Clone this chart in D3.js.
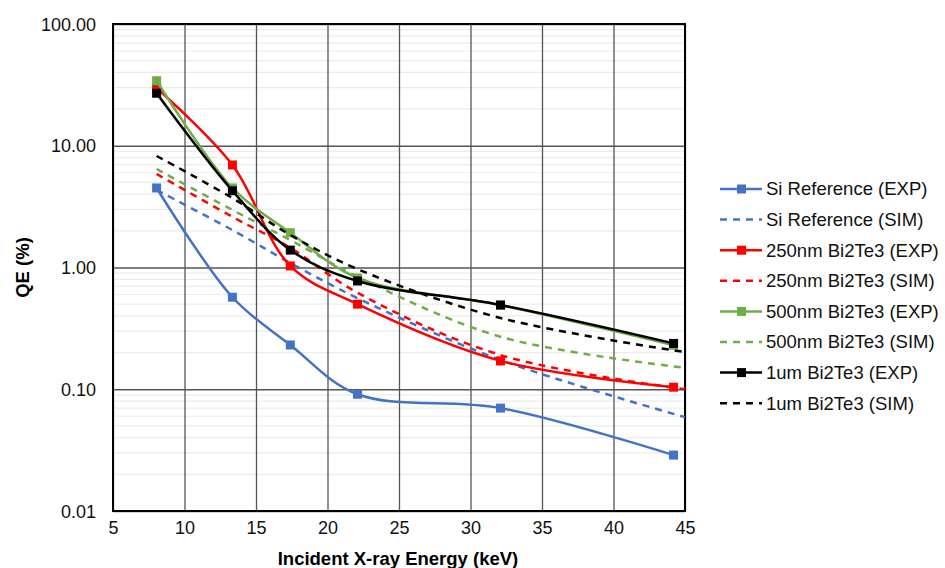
<!DOCTYPE html>
<html>
<head>
<meta charset="utf-8">
<script src="https://cdn.jsdelivr.net/npm/d3@7"></script>
<style>
  body { margin: 0; background: #fff; }
  text { font-family: "Liberation Sans", Arial, sans-serif; }
</style>
</head>
<body>
<svg id="chart" width="945" height="568"></svg>
<script>
// ---- data ----
const expEnergy = [8.05, 13.35, 17.4, 22.1, 32.1, 44.2];
const simEnergy = [8.05, 13.35, 17.4, 22.1, 32.1, 45];

const siExp    = [4.5, 0.57, 0.231, 0.091, 0.070, 0.0288];
const siSim    = [4.33, 2.03, 1.09, 0.56, 0.174, 0.059];
const b250Exp  = [29.8, 6.95, 1.03, 0.50, 0.171, 0.104];
const b250Sim  = [5.86, 2.61, 1.45, 0.62, 0.191, 0.100];
const b500Exp  = [34.2, 4.5, 1.93, 0.82, 0.49, 0.23];
const b500Sim  = [6.44, 2.97, 1.68, 0.84, 0.27, 0.150];
const b1umExp  = [27.0, 4.27, 1.39, 0.775, 0.492, 0.238];
const b1umSim  = [8.24, 3.72, 1.85, 0.97, 0.385, 0.202];

const seriesNames = ["Si Reference (EXP)", "Si Reference (SIM)", "250nm Bi2Te3 (EXP)", "250nm Bi2Te3 (SIM)",
                     "500nm Bi2Te3 (EXP)", "500nm Bi2Te3 (SIM)", "1um Bi2Te3 (EXP)", "1um Bi2Te3 (SIM)"];
const xTicks = [5, 10, 15, 20, 25, 30, 35, 40, 45];
const yTicks = [0.01, 0.1, 1, 10, 100];

// ---- layout ----
const svg = d3.select("#chart");
const L = 113, R = 685, T = 24, B = 511;
const x = d3.scaleLinear().domain([5, 45]).range([L, R]);
const y = d3.scaleLog().domain([0.01, 100]).range([B, T]);

const colors = ["#4472C4", "#4472C4", "#FF0000", "#FF0000", "#70AD47", "#70AD47", "#000000", "#000000"];
const series = [
  {name: seriesNames[0], e: expEnergy, v: siExp, exp: true},
  {name: seriesNames[1], e: simEnergy, v: siSim, exp: false},
  {name: seriesNames[2], e: expEnergy, v: b250Exp, exp: true},
  {name: seriesNames[3], e: simEnergy, v: b250Sim, exp: false},
  {name: seriesNames[4], e: expEnergy, v: b500Exp, exp: true},
  {name: seriesNames[5], e: simEnergy, v: b500Sim, exp: false},
  {name: seriesNames[6], e: expEnergy, v: b1umExp, exp: true},
  {name: seriesNames[7], e: simEnergy, v: b1umSim, exp: false}
].map((s, i) => Object.assign(s, {color: colors[i]}));

// minor gridlines
const minor = [];
for (let d = -2; d < 2; d++) for (let m = 2; m <= 9; m++) minor.push(m * Math.pow(10, d));
svg.append("g").selectAll("line").data(minor).join("line")
  .attr("x1", L).attr("x2", R)
  .attr("y1", d => y(d)).attr("y2", d => y(d))
  .attr("stroke", "#ececec").attr("stroke-width", 1.2);

// major gridlines via axes
const gy = svg.append("g").attr("transform", `translate(${L},0)`)
  .call(d3.axisLeft(y).tickValues(yTicks).tickFormat(d3.format(".2f")).tickSize(-(R - L)).tickPadding(17));
gy.select(".domain").remove();
gy.selectAll(".tick line").attr("stroke", "#555").attr("stroke-width", 1.3);
gy.selectAll(".tick text").attr("font-size", 18).attr("fill", "#111").attr("dy", "0.34em");

const gx = svg.append("g").attr("transform", `translate(0,${B})`)
  .call(d3.axisBottom(x).tickValues(xTicks).tickFormat(d3.format("d")).tickSize(-(B - T)).tickPadding(10));
gx.select(".domain").remove();
gx.selectAll(".tick line").attr("stroke", "#555").attr("stroke-width", 1.3);
gx.selectAll(".tick text").attr("font-size", 18).attr("fill", "#111");

// plot border
svg.append("rect").attr("x", L).attr("y", T).attr("width", R - L).attr("height", B - T)
  .attr("fill", "none").attr("stroke", "#000").attr("stroke-width", 2);

// series
const line = d3.line().x(d => x(d[0])).y(d => y(d[1])).curve(d3.curveCatmullRom.alpha(0.5));
const plot = svg.append("g");
series.forEach(s => {
  const pts = s.e.map((e, i) => [e, s.v[i]]);
  plot.append("path").datum(pts).attr("d", line)
    .attr("fill", "none").attr("stroke", s.color).attr("stroke-width", 2.5)
    .attr("stroke-dasharray", s.exp ? null : "7,6");
  if (s.exp) {
    plot.append("g").selectAll("rect").data(pts).join("rect")
      .attr("x", d => x(d[0]) - 4.5).attr("y", d => y(d[1]) - 4.5)
      .attr("width", 9).attr("height", 9).attr("fill", s.color);
  }
});

// axis titles
svg.append("text").attr("x", 398).attr("y", 565).attr("text-anchor", "middle")
  .attr("font-size", 18.5).attr("font-weight", "bold").text("Incident X-ray Energy (keV)");
svg.append("text").attr("transform", `translate(29,${(T + B) / 2}) rotate(-90)`).attr("text-anchor", "middle")
  .attr("font-size", 18.5).attr("font-weight", "bold").text("QE (%)");

// legend
const lg = svg.append("g");
series.forEach((s, i) => {
  const ly = 189 + i * 30.6;
  lg.append("line").attr("x1", 720).attr("x2", 762).attr("y1", ly).attr("y2", ly)
    .attr("stroke", s.color).attr("stroke-width", 2.5).attr("stroke-dasharray", s.exp ? null : "7,6");
  if (s.exp) lg.append("rect").attr("x", 737).attr("y", ly - 4.5).attr("width", 9).attr("height", 9).attr("fill", s.color);
  lg.append("text").attr("x", 766).attr("y", ly).attr("dy", "0.35em").attr("font-size", 18.5).attr("fill", "#111").text(s.name);
});
</script>
</body>
</html>
